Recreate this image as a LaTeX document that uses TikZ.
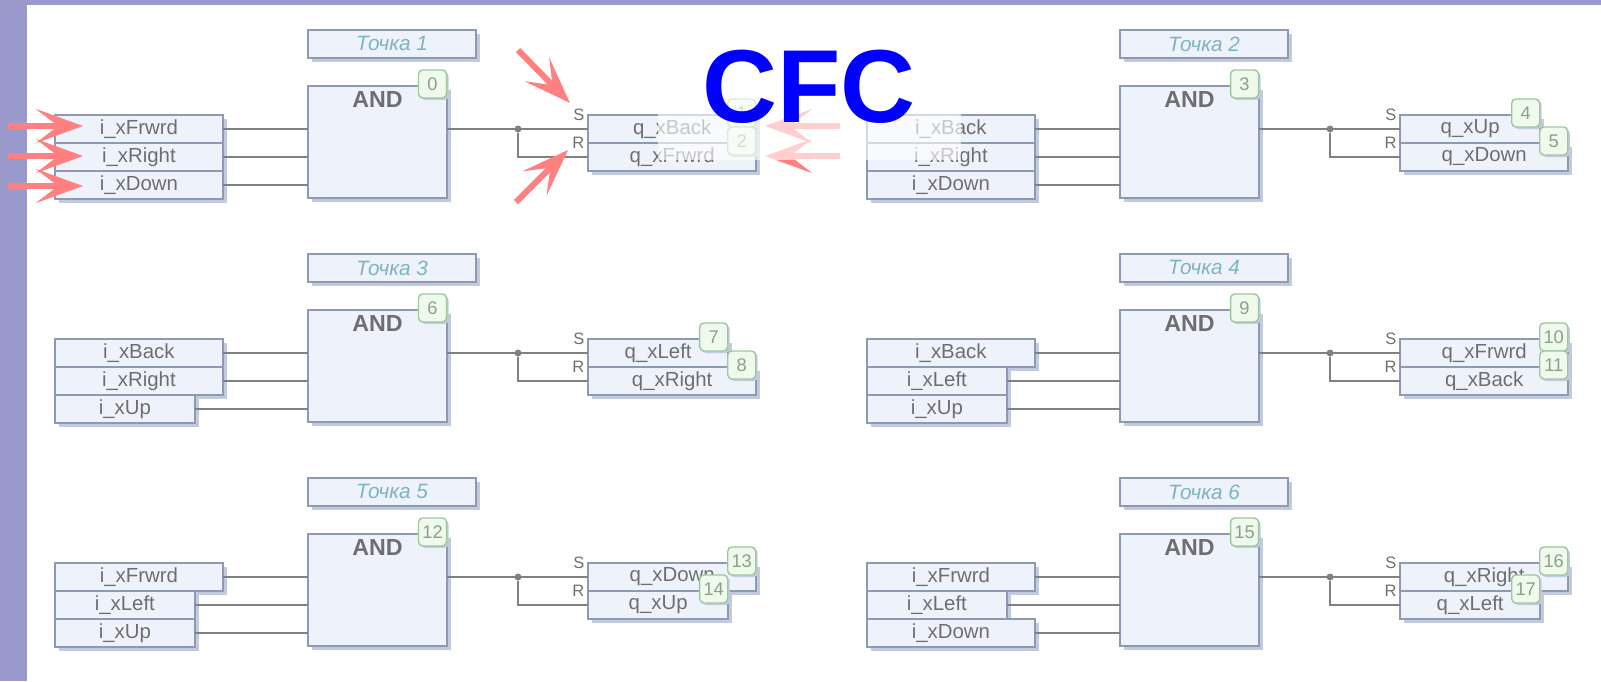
\documentclass[tikz,border=0pt]{standalone}
\usepackage{fontspec}
\setmainfont{Liberation Sans}
\usepackage{xcolor}
\usepackage{tikz}
\usetikzlibrary{arrows.meta,positioning,calc,shadows}
\definecolor{bandcolor}{HTML}{9999CC}
\definecolor{boxfill}{HTML}{EEF3FB}
\definecolor{boxline}{HTML}{8E9AB2}
\definecolor{boxshadow}{HTML}{C2CBDD}
\definecolor{wirecolor}{HTML}{808080}
\definecolor{labelcolor}{HTML}{6E6E6E}
\definecolor{titlecolor}{HTML}{7DB4BE}
\definecolor{badgefill}{HTML}{EFF9EC}
\definecolor{badgeline}{HTML}{9FC79F}
\definecolor{badgetext}{HTML}{86A386}
\definecolor{pointercolor}{HTML}{FF8080}
\tikzset{
    bloco/.style={
        rectangle,
        draw=boxline,
        line width=0.65pt,
        fill=boxfill,
        inner sep=0pt,
        outer sep=0pt,
        general shadow={shadow xshift=0.04cm, shadow yshift=-0.04cm, fill=boxshadow},
        text=labelcolor,
        font=\fontsize{5.8}{7}\selectfont
    },
    widebox/.style={bloco, minimum width=1.68cm, minimum height=0.28cm},
    narrowbox/.style={bloco, minimum width=1.40cm, minimum height=0.28cm},
    pointname/.style={widebox, text=titlecolor, font=\fontsize{5.9}{7}\selectfont\itshape},
    andbox/.style={bloco, minimum width=1.39cm, minimum height=1.12cm},
    andname/.style={inner sep=0pt, text=labelcolor, font=\fontsize{6.6}{8}\selectfont\bfseries},
    srname/.style={inner sep=0pt, text=labelcolor, font=\fontsize{4.7}{6}\selectfont},
    badge/.style={
        rectangle,
        draw=badgeline,
        line width=0.4pt,
        rounded corners=1.2pt,
        fill=badgefill,
        minimum size=0.28cm,
        inner sep=0pt,
        xshift=-0.145cm,
        yshift=0.02cm,
        general shadow={shadow xshift=0.02cm, shadow yshift=-0.02cm, fill=boxshadow},
        text=badgetext,
        font=\fontsize{5.2}{6}\selectfont
    },
    wire/.style={draw=wirecolor, line width=0.6pt},
    junction/.style={circle, fill=wirecolor, inner sep=0pt, minimum size=0.07cm},
    pointer/.style={-{Stealth[length=0.47cm, width=0.34cm, inset=0.22cm]}, draw=pointercolor, line width=0.06cm}
}

\begin{document}
\begin{tikzpicture}[x=0.01cm, y=-0.01cm]
    \useasboundingbox (0,0) rectangle (1601,681);
    \fill[bandcolor] (0,0) rectangle (1601,5);
    \fill[bandcolor] (0,0) rectangle (27,681);

    % Tochka 1
    \node[andbox] (and1) at (377.5,142) {};
    \node[andname, below=0.05cm of and1.north] (andname1) {AND};
    \node[pointname, above right=0.28cm and 0cm of and1.north west] (name1) {Точка 1};
    \node[widebox, below left=0.29cm and 0.85cm of and1.north west] (in1a) {i\_xFrwrd};
    \node[widebox, below right=0cm and 0cm of in1a.south west] (in1b) {i\_xRight};
    \node[widebox, below right=0cm and 0cm of in1b.south west] (in1c) {i\_xDown};
    \node[widebox, below right=0.29cm and 1.41cm of and1.north east] (out1a) {q\_xBack};
    \node[widebox, below right=0cm and 0cm of out1a.south west] (out1b) {q\_xFrwrd};
    \node[srname, left=0.03cm of out1a.north west] (set1) {S};
    \node[srname, left=0.03cm of out1a.south west] (reset1) {R};
    \node[junction] (jun1) at ($(and1.east |- out1a.west)+(71,0)$) {};
    \node[badge] (badge0) at (and1.north east) {0};
    \node[badge] (badge1) at (out1a.north east) {1};
    \node[badge] (badge2) at (out1b.north east) {2};
    \draw[wire] (in1a) -- (in1a -| and1.west);
    \draw[wire] (in1b) -- (in1b -| and1.west);
    \draw[wire] (in1c) -- (in1c -| and1.west);
    \draw[wire] (and1.east |- out1a.west) -- (out1a.west);
    \draw[wire] (jun1) |- (out1b.west);

    % Tochka 2
    \node[andbox] (and2) at (1189.5,142) {};
    \node[andname, below=0.05cm of and2.north] (andname2) {AND};
    \node[pointname, above right=0.28cm and 0cm of and2.north west] (name2) {Точка 2};
    \node[widebox, below left=0.29cm and 0.85cm of and2.north west] (in2a) {i\_xBack};
    \node[widebox, below right=0cm and 0cm of in2a.south west] (in2b) {i\_xRight};
    \node[widebox, below right=0cm and 0cm of in2b.south west] (in2c) {i\_xDown};
    \node[narrowbox, below right=0.29cm and 1.41cm of and2.north east] (out2a) {q\_xUp};
    \node[widebox, below right=0cm and 0cm of out2a.south west] (out2b) {q\_xDown};
    \node[srname, left=0.03cm of out2a.north west] (set2) {S};
    \node[srname, left=0.03cm of out2a.south west] (reset2) {R};
    \node[junction] (jun2) at ($(and2.east |- out2a.west)+(71,0)$) {};
    \node[badge] (badge3) at (and2.north east) {3};
    \node[badge] (badge4) at (out2a.north east) {4};
    \node[badge] (badge5) at (out2b.north east) {5};
    \draw[wire] (in2a) -- (in2a -| and2.west);
    \draw[wire] (in2b) -- (in2b -| and2.west);
    \draw[wire] (in2c) -- (in2c -| and2.west);
    \draw[wire] (and2.east |- out2a.west) -- (out2a.west);
    \draw[wire] (jun2) |- (out2b.west);

    % Tochka 3
    \node[andbox] (and3) at (377.5,366) {};
    \node[andname, below=0.05cm of and3.north] (andname3) {AND};
    \node[pointname, above right=0.28cm and 0cm of and3.north west] (name3) {Точка 3};
    \node[widebox, below left=0.29cm and 0.85cm of and3.north west] (in3a) {i\_xBack};
    \node[widebox, below right=0cm and 0cm of in3a.south west] (in3b) {i\_xRight};
    \node[narrowbox, below right=0cm and 0cm of in3b.south west] (in3c) {i\_xUp};
    \node[narrowbox, below right=0.29cm and 1.41cm of and3.north east] (out3a) {q\_xLeft};
    \node[widebox, below right=0cm and 0cm of out3a.south west] (out3b) {q\_xRight};
    \node[srname, left=0.03cm of out3a.north west] (set3) {S};
    \node[srname, left=0.03cm of out3a.south west] (reset3) {R};
    \node[junction] (jun3) at ($(and3.east |- out3a.west)+(71,0)$) {};
    \node[badge] (badge6) at (and3.north east) {6};
    \node[badge] (badge7) at (out3a.north east) {7};
    \node[badge] (badge8) at (out3b.north east) {8};
    \draw[wire] (in3a) -- (in3a -| and3.west);
    \draw[wire] (in3b) -- (in3b -| and3.west);
    \draw[wire] (in3c) -- (in3c -| and3.west);
    \draw[wire] (and3.east |- out3a.west) -- (out3a.west);
    \draw[wire] (jun3) |- (out3b.west);

    % Tochka 4
    \node[andbox] (and4) at (1189.5,366) {};
    \node[andname, below=0.05cm of and4.north] (andname4) {AND};
    \node[pointname, above right=0.28cm and 0cm of and4.north west] (name4) {Точка 4};
    \node[widebox, below left=0.29cm and 0.85cm of and4.north west] (in4a) {i\_xBack};
    \node[narrowbox, below right=0cm and 0cm of in4a.south west] (in4b) {i\_xLeft};
    \node[narrowbox, below right=0cm and 0cm of in4b.south west] (in4c) {i\_xUp};
    \node[widebox, below right=0.29cm and 1.41cm of and4.north east] (out4a) {q\_xFrwrd};
    \node[widebox, below right=0cm and 0cm of out4a.south west] (out4b) {q\_xBack};
    \node[srname, left=0.03cm of out4a.north west] (set4) {S};
    \node[srname, left=0.03cm of out4a.south west] (reset4) {R};
    \node[junction] (jun4) at ($(and4.east |- out4a.west)+(71,0)$) {};
    \node[badge] (badge9) at (and4.north east) {9};
    \node[badge] (badge10) at (out4a.north east) {10};
    \node[badge] (badge11) at (out4b.north east) {11};
    \draw[wire] (in4a) -- (in4a -| and4.west);
    \draw[wire] (in4b) -- (in4b -| and4.west);
    \draw[wire] (in4c) -- (in4c -| and4.west);
    \draw[wire] (and4.east |- out4a.west) -- (out4a.west);
    \draw[wire] (jun4) |- (out4b.west);

    % Tochka 5
    \node[andbox] (and5) at (377.5,590) {};
    \node[andname, below=0.05cm of and5.north] (andname5) {AND};
    \node[pointname, above right=0.28cm and 0cm of and5.north west] (name5) {Точка 5};
    \node[widebox, below left=0.29cm and 0.85cm of and5.north west] (in5a) {i\_xFrwrd};
    \node[narrowbox, below right=0cm and 0cm of in5a.south west] (in5b) {i\_xLeft};
    \node[narrowbox, below right=0cm and 0cm of in5b.south west] (in5c) {i\_xUp};
    \node[widebox, below right=0.29cm and 1.41cm of and5.north east] (out5a) {q\_xDown};
    \node[narrowbox, below right=0cm and 0cm of out5a.south west] (out5b) {q\_xUp};
    \node[srname, left=0.03cm of out5a.north west] (set5) {S};
    \node[srname, left=0.03cm of out5a.south west] (reset5) {R};
    \node[junction] (jun5) at ($(and5.east |- out5a.west)+(71,0)$) {};
    \node[badge] (badge12) at (and5.north east) {12};
    \node[badge] (badge13) at (out5a.north east) {13};
    \node[badge] (badge14) at (out5b.north east) {14};
    \draw[wire] (in5a) -- (in5a -| and5.west);
    \draw[wire] (in5b) -- (in5b -| and5.west);
    \draw[wire] (in5c) -- (in5c -| and5.west);
    \draw[wire] (and5.east |- out5a.west) -- (out5a.west);
    \draw[wire] (jun5) |- (out5b.west);

    % Tochka 6
    \node[andbox] (and6) at (1189.5,590) {};
    \node[andname, below=0.05cm of and6.north] (andname6) {AND};
    \node[pointname, above right=0.28cm and 0cm of and6.north west] (name6) {Точка 6};
    \node[widebox, below left=0.29cm and 0.85cm of and6.north west] (in6a) {i\_xFrwrd};
    \node[narrowbox, below right=0cm and 0cm of in6a.south west] (in6b) {i\_xLeft};
    \node[widebox, below right=0cm and 0cm of in6b.south west] (in6c) {i\_xDown};
    \node[widebox, below right=0.29cm and 1.41cm of and6.north east] (out6a) {q\_xRight};
    \node[narrowbox, below right=0cm and 0cm of out6a.south west] (out6b) {q\_xLeft};
    \node[srname, left=0.03cm of out6a.north west] (set6) {S};
    \node[srname, left=0.03cm of out6a.south west] (reset6) {R};
    \node[junction] (jun6) at ($(and6.east |- out6a.west)+(71,0)$) {};
    \node[badge] (badge15) at (and6.north east) {15};
    \node[badge] (badge16) at (out6a.north east) {16};
    \node[badge] (badge17) at (out6b.north east) {17};
    \draw[wire] (in6a) -- (in6a -| and6.west);
    \draw[wire] (in6b) -- (in6b -| and6.west);
    \draw[wire] (in6c) -- (in6c -| and6.west);
    \draw[wire] (and6.east |- out6a.west) -- (out6a.west);
    \draw[wire] (jun6) |- (out6b.west);

    % pointers on the first point
    \coordinate (ptrin1) at (8,126);
    \coordinate (tipin1) at (83,126);
    \coordinate (ptrin2) at (8,156);
    \coordinate (tipin2) at (83,156);
    \coordinate (ptrin3) at (8,186);
    \coordinate (tipin3) at (83,186);
    \coordinate (ptrset) at (518,50);
    \coordinate (tipset) at (570,103);
    \coordinate (ptrreset) at (516,202);
    \coordinate (tipreset) at (568,150);
    \coordinate (ptrback) at (840,126);
    \coordinate (tipback) at (765,126);
    \coordinate (ptrfrwrd) at (840,156);
    \coordinate (tipfrwrd) at (765,156);
    \draw[pointer] (ptrin1) -- (tipin1);
    \draw[pointer] (ptrin2) -- (tipin2);
    \draw[pointer] (ptrin3) -- (tipin3);
    \draw[pointer] (ptrset) -- (tipset);
    \draw[pointer] (ptrreset) -- (tipreset);
    \draw[pointer] (ptrback) -- (tipback);
    \draw[pointer] (ptrfrwrd) -- (tipfrwrd);

    % pale sheet under the heading
    \fill[white, opacity=0.62] (658,45) rectangle (961,160);
    \node[inner sep=0pt, text=blue, font=\fontsize{29.5}{32}\selectfont\bfseries] (heading) at (809,87) {CFC};
\end{tikzpicture}
\end{document}
